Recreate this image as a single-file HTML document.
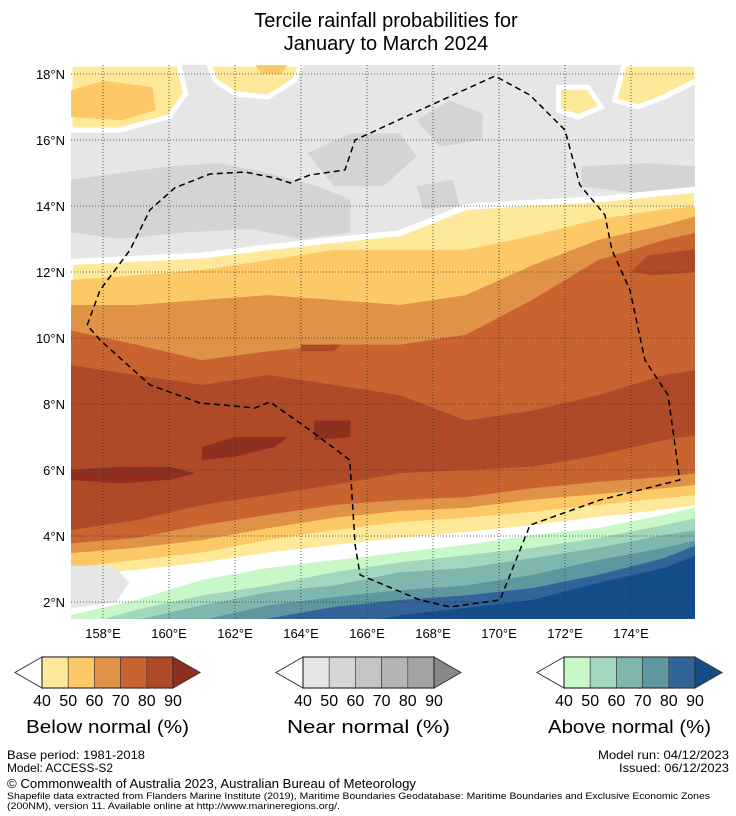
<!DOCTYPE html>
<html><head><meta charset="utf-8">
<style>
body{margin:0;background:#fff;width:736px;height:816px;overflow:hidden;font-family:"Liberation Sans","DejaVu Sans",sans-serif;}
svg{position:absolute;left:0;top:0}
</style></head>
<body>
<svg id="chart" width="736" height="816" viewBox="0 0 736 816">
<text x="386" y="27" font-size="20" text-anchor="middle">Tercile rainfall probabilities for</text>
<text x="386" y="50" font-size="20" text-anchor="middle">January to March 2024</text>
<defs><clipPath id="mapclip"><rect x="71" y="65" width="624" height="554"/></clipPath></defs>
<g id="map" clip-path="url(#mapclip)"></g>
<g id="axes"></g>
<g id="legends"></g>
<g font-size="12">
<text x="7" y="759" textLength="138" lengthAdjust="spacingAndGlyphs">Base period: 1981-2018</text>
<text x="7" y="772" textLength="106" lengthAdjust="spacingAndGlyphs">Model: ACCESS-S2</text>
<text x="598" y="759" textLength="131" lengthAdjust="spacingAndGlyphs">Model run: 04/12/2023</text>
<text x="619" y="772" textLength="110" lengthAdjust="spacingAndGlyphs">Issued: 06/12/2023</text>
<text x="7" y="788" font-size="13" textLength="409" lengthAdjust="spacingAndGlyphs">© Commonwealth of Australia 2023, Australian Bureau of Meteorology</text>
<text x="7" y="799" font-size="9.5" textLength="703" lengthAdjust="spacingAndGlyphs">Shapefile data extracted from Flanders Marine Institute (2019), Maritime Boundaries Geodatabase: Maritime Boundaries and Exclusive Economic Zones</text>
<text x="7" y="809" font-size="9.5" textLength="333" lengthAdjust="spacingAndGlyphs">(200NM), version 11. Available online at http://www.marineregions.org/.</text>
</g>
</svg>
<script>
const NS="http://www.w3.org/2000/svg";
const lonTicks=[158,160,162,164,166,168,170,172,174];
const latTicks=[2,4,6,8,10,12,14,16,18];
const lons=[157,159,161,163,165,167,169,171,173,175,176];
const bandNames=["below-40","below-50","below-60","below-70","below-80","below-70-s","below-60-s","below-50-s","below-40-s","white-s","above-40","above-50","above-60","above-70","above-80","above-90"];
const bandColors=["#fee99b","#fdc966","#e09246","#c96431","#ae4a27","#c96431","#e09246","#fdc966","#fee99b","#ffffff","#c8f8c8","#a3d7bd","#7fb7af","#5f97a1","#32649a","#154d8a"];
const b0=[12.3,12.4,12.5,12.75,12.97,13.18,13.97,14.1,14.2,14.4,14.5];
const b1=[11.76,11.9,12.06,12.36,12.67,12.67,12.67,13.1,13.6,13.9,14.0];
const b2=[11.0,11.0,11.15,11.3,11.15,11.0,11.3,12.2,12.97,13.42,13.7];
const b3=[10.24,9.8,9.33,9.6,9.8,9.8,10.1,11.15,12.36,12.97,13.2];
const b4=[9.18,8.88,8.58,8.88,8.58,8.27,7.5,7.8,8.27,8.88,9.03];
const b5=[4.18,4.48,4.94,5.24,5.55,5.9,6.0,6.1,6.45,6.9,7.06];
const b6=[3.78,3.94,4.33,4.64,4.94,5.09,5.18,5.45,5.64,5.79,5.9];
const b7=[3.48,3.64,3.88,4.24,4.55,4.76,4.85,5.1,5.27,5.45,5.55];
const b8=[3.03,3.27,3.5,3.88,4.18,4.42,4.55,4.73,4.94,5.15,5.24];
const b9=[2.82,2.97,3.2,3.5,3.73,3.94,4.12,4.33,4.58,4.8,4.94];
const b10=[1.6,2.06,2.67,3.03,3.27,3.5,3.73,4.03,4.24,4.64,4.88];
const b11=[1.2,1.76,2.2,2.5,2.9,3.2,3.42,3.64,3.94,4.33,4.55];
const b12=[1.0,1.45,1.9,2.3,2.5,2.9,3.03,3.33,3.64,4.03,4.18];
const b13=[0.8,1.1,1.45,1.9,2.15,2.36,2.5,2.82,3.27,3.64,3.88];
const b14=[0.5,0.8,1.1,1.5,1.85,2.06,2.2,2.42,2.82,3.33,3.73];
const b15=[0.3,0.5,0.8,1.0,1.2,1.6,1.82,2.06,2.58,3.03,3.42];
const bounds=[b0,b1,b2,b3,b4,b5,b6,b7,b8,b9,b10,b11,b12,b13,b14,b15];
const darkGreyPatches=[
 [[157,14.8],[158.5,15.0],[160,15.2],[161.5,15.3],[163,15.0],[164.5,14.6],[165.5,14.2],[165.5,13.2],[164,13.0],[162.5,13.3],[160.5,13.2],[158.5,13.0],[157,13.2]],
 [[164.2,15.6],[165.5,16.2],[167,16.2],[167.5,15.5],[166.5,14.6],[165,14.6]],
 [[167.5,16.6],[168.5,17.2],[169.5,16.8],[169.5,16.0],[168.2,15.8]],
 [[172.5,15.2],[174.5,15.3],[176,15.2],[176,14.6],[174,14.4],[172.5,14.6]],
 [[167.5,14.6],[168.6,14.8],[168.8,14.0],[167.7,13.9]]
];
const lightYellowTop=[
 [[157,18.3],[160.3,18.3],[160.5,17.4],[160,16.7],[158.5,16.3],[157,16.3]],
 [[161.2,18.3],[164,18.3],[163.8,17.8],[163,17.3],[162,17.4],[161.4,17.8]],
 [[171.8,17.6],[172.7,17.6],[173.1,17.0],[172.4,16.7],[171.8,16.9]],
 [[173.8,18.3],[176,18.3],[176,17.8],[175,17.3],[174.2,17.0],[173.5,17.2]]
];
const orangeTop=[
 [[157,17.5],[158,17.8],[159.5,17.6],[159.6,16.9],[158.6,16.6],[157,16.7]],
 [[162.6,18.3],[163.6,18.3],[163.4,18.0],[162.8,18.0]]
];
const darkRedPatches=[
 [[157,6.0],[158.5,6.1],[160,6.1],[160.8,5.9],[160,5.7],[158.5,5.6],[157,5.7]],
 [[161,6.7],[162,7.0],[163.6,7.0],[163.2,6.7],[162,6.4],[161,6.3]],
 [[164.4,7.5],[165.5,7.5],[165.5,7.0],[164.4,6.9]],
 [[174.5,12.5],[176,12.7],[176,12.0],[174.7,11.9],[174.0,12.0]],
 [[164,9.8],[165.2,9.8],[165.0,9.6],[164,9.6]]
];
const greyBottom=[[[157,3.1],[158.3,3.1],[158.8,2.6],[158.4,2.0],[157,1.8]]];
const eez=[[157.52,10.39],[157.91,11.45],[158.82,12.67],[159.42,13.88],[160.18,14.55],[161.24,14.97],[162.3,15.03],[163.21,14.85],[163.67,14.7],[164.27,14.94],[165.33,15.09],[165.64,16.0],[167.61,16.91],[169.88,17.94],[170.94,17.36],[172.0,16.3],[172.45,14.64],[173.21,13.73],[173.42,12.67],[173.97,11.45],[174.42,9.33],[175.12,8.27],[175.48,5.7],[173.06,5.09],[170.94,4.33],[170.03,2.06],[168.52,1.85],[167.61,2.06],[165.79,2.82],[165.64,3.73],[165.48,6.3],[164.27,7.21],[163.06,8.06],[162.61,7.88],[160.94,8.03],[159.42,8.58],[157.91,9.94],[157.52,10.39]];

const xS=lon=>103+(lon-158)*33;
const yS=lat=>74+(18-lat)*33;
const map=document.getElementById('map'),axes=document.getElementById('axes'),leg=document.getElementById('legends');
function mk(tag,attrs,parent){const e=document.createElementNS(NS,tag);for(const k in attrs)e.setAttribute(k,attrs[k]);parent.appendChild(e);return e;}
function pts(arr){return arr.map(p=>xS(p[0]).toFixed(1)+','+yS(p[1]).toFixed(1)).join(' ');}

let r=mk('rect',{x:71,y:65,width:624,height:554,fill:'#e6e6e6'},map);


darkGreyPatches.forEach(p=>{const e=mk('polygon',{points:pts(p),fill:'#d4d4d4'},map);

});
lightYellowTop.forEach(p=>{const e=mk('polygon',{points:pts(p),fill:'#fee99b',stroke:'#fff','stroke-width':5},map);

});
orangeTop.forEach(p=>{const e=mk('polygon',{points:pts(p),fill:'#fdc966'},map);

});
bounds.forEach((b,i)=>{
  const top=lons.map((l,j)=>[l,b[j]]);
  const poly=top.concat([[176,-1],[157,-1]]);
  const e=mk('polygon',{points:pts(poly),fill:bandColors[i]},map);
  if(i===0){e.setAttribute('stroke','#fff');e.setAttribute('stroke-width','6');}
  
  
});
darkRedPatches.forEach(p=>{const e=mk('polygon',{points:pts(p),fill:(p[0][0]>=174||p[0][1]>9)?'#ae4a27':'#8e2f1f'},map);

});
greyBottom.forEach(p=>{const e=mk('polygon',{points:pts(p),fill:'#e6e6e6'},map);

});
lonTicks.forEach(l=>{const e=mk('line',{x1:xS(l),x2:xS(l),y1:65,y2:619,stroke:'#333','stroke-width':0.8,'stroke-dasharray':'1,2'},map);

});
latTicks.forEach(l=>{const e=mk('line',{x1:71,x2:695,y1:yS(l),y2:yS(l),stroke:'#333','stroke-width':0.8,'stroke-dasharray':'1,2'},map);

});
let ez=mk('polyline',{points:pts(eez),fill:'none',stroke:'#000','stroke-width':1.5,'stroke-dasharray':'6,4'},map);


lonTicks.forEach(l=>{const t=mk('text',{x:xS(l),y:638,'font-size':13,'text-anchor':'middle'},axes);t.textContent=l+'°E';

});
latTicks.forEach(l=>{const t=mk('text',{x:65,y:yS(l)+5,'font-size':13,'text-anchor':'end'},axes);t.textContent=l+'°N';

});
const legendTitles=["Below normal (%)","Near normal (%)","Above normal (%)"];
const legendLeft=[15,276,537];
const legendColors=[["#fee99b","#fdc966","#e09246","#c96431","#ae4a27","#8e2f1f"],["#e6e6e6","#d6d6d6","#c4c4c4","#b4b4b4","#a3a3a3","#888888"],["#c8f8c8","#a3d7bd","#7fb7af","#5f97a1","#32649a","#154d8a"]];
const legendLabels=["40","50","60","70","80","90"];
legendLeft.forEach((x0,k)=>{
  const g=mk('g',{},leg);
  
  
  const y0=657,h=31,bx=x0+27,bw=26.2;
  mk('polygon',{points:`${bx},${y0} ${x0},${y0+h/2} ${bx},${y0+h}`,fill:'#fff',stroke:'#333','stroke-width':1},g);
  for(let i=0;i<5;i++)mk('rect',{x:bx+i*bw,y:y0,width:bw,height:h,fill:legendColors[k][i],stroke:'#333','stroke-width':0.6},g);
  const ex=bx+5*bw;
  mk('polygon',{points:`${ex},${y0} ${ex+27},${y0+h/2} ${ex},${y0+h}`,fill:legendColors[k][5],stroke:'#333','stroke-width':1},g);
  mk('rect',{x:bx,y:y0,width:5*bw,height:h,fill:'none',stroke:'#333','stroke-width':1.2},g);
  legendLabels.forEach((s,i)=>{const t=mk('text',{x:bx+i*bw,y:706,'font-size':16,'text-anchor':'middle'},g);t.textContent=s;
  
  });
  const t=mk('text',{x:bx+2.5*bw,y:733,'font-size':18,'text-anchor':'middle',textLength:163,lengthAdjust:'spacingAndGlyphs'},g);t.textContent=legendTitles[k];
  
  
});
</script>
</body></html>
